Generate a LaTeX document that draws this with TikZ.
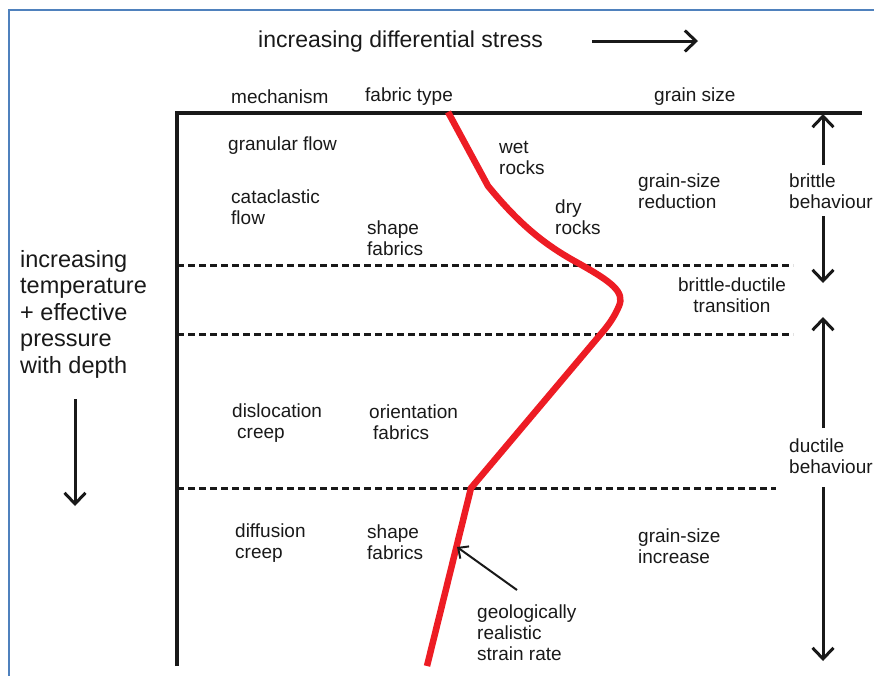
\documentclass[tikz,border=0pt]{standalone}
\usepackage{fontspec}
\setmainfont{Liberation Sans}
\usetikzlibrary{arrows.meta}
\begin{document}
\begin{tikzpicture}[x=1pt,y=-1pt,
  lbl/.style={inner sep=0pt,anchor=west,align=left,font=\fontsize{19}{21}\selectfont,text=black!90},
  big/.style={inner sep=0pt,anchor=west,align=left,font=\fontsize{23.5}{26.5}\selectfont,text=black!90},
  axis/.style={line width=3.5pt,black!90},
  dashline/.style={line width=3pt,black!90,dash pattern=on 7pt off 4pt},
  arr/.style={line width=3pt,black!90,-{Straight Barb[length=11pt,width=21pt,line width=3pt]}},
  redc/.style={line width=6.5pt,draw={rgb,255:red,237;green,28;blue,36},line join=round}]
\useasboundingbox (0,0) rectangle (874,675);
\definecolor{frameblue}{RGB}{79,129,189}
\draw[line width=2.5pt,frameblue] (9,676) -- (9,10) -- (876,10);
% axes
\coordinate (tl) at (177,113);
\coordinate (tr) at (862,113);
\coordinate (bl) at (177,666);
\draw[axis] (bl) -- (tl) -- (tr);
% dashed
\coordinate (d1a) at (177,265); \coordinate (d1b) at (793,265);
\coordinate (d2a) at (177,334); \coordinate (d2b) at (793,334);
\coordinate (d3a) at (177,488); \coordinate (d3b) at (776,488);
\draw[dashline] (d1a) -- (d1b);
\draw[dashline] (d2a) -- (d2b);
\draw[dashline] (d3a) -- (d3b);
% title
\node[big,font=\fontsize{23}{26}\selectfont] (title) at (258,42) {increasing differential stress};
\coordinate (ta) at (592,41); \coordinate (tb) at (698,41);
\draw[arr] (ta) -- (tb);
% headers
\node[lbl] (mech) at (231,97) {mechanism};
\node[lbl] (fab) at (365,97) {fabric type};
\node[lbl] (gs) at (654,97) {grain size};
% left text
\node[big] (depth) at (20,314) {increasing\\temperature\\+ effective\\pressure\\with depth};
\coordinate (la) at (75,399); \coordinate (lb) at (75,506);
\draw[arr] (la) -- (lb);
% right arrows
\coordinate (r1a) at (823,165); \coordinate (r1b) at (823,114);
\coordinate (r2a) at (823,216); \coordinate (r2b) at (823,283);
\coordinate (r3a) at (823,428); \coordinate (r3b) at (823,317);
\coordinate (r4a) at (823,487); \coordinate (r4b) at (823,661);
\draw[arr] (r1a) -- (r1b);
\draw[arr] (r2a) -- (r2b);
\draw[arr] (r3a) -- (r3b);
\draw[arr] (r4a) -- (r4b);
% labels
\node[lbl] (gran) at (228,146) {granular flow};
\node[lbl] (cata) at (231,207) {cataclastic\\flow};
\node[lbl] (shape1) at (367,238) {shape\\fabrics};
\node[lbl] (wet) at (499,158) {wet\\rocks};
\node[lbl] (dry) at (555,217) {dry\\rocks};
\node[lbl] (gsr) at (638,191) {grain-size\\reduction};
\node[lbl] (britt) at (789,191) {brittle\\behaviour};
\node[lbl,anchor=center,align=center] (bdt) at (732,295) {brittle-ductile\\transition};
\node[lbl] (disl) at (232,423) {dislocation\\\hspace*{5pt}creep};
\node[lbl] (orie) at (369,422) {orientation\\\hspace*{4pt}fabrics};
\node[lbl] (duct) at (789,456) {ductile\\behaviour};
\node[lbl] (diff) at (235,543) {diffusion\\creep};
\node[lbl] (shape2) at (367,542) {shape\\fabrics};
\node[lbl] (gsi) at (638,546) {grain-size\\increase};
\node[lbl] (geo) at (477,633) {geologically\\realistic\\strain rate};
% red curve
\coordinate (c0) at (448,112);
\coordinate (c1) at (488,186);
\coordinate (c2) at (578,263);
\coordinate (c3) at (619,306);
\coordinate (c4) at (600,335);
\coordinate (c5) at (471,488);
\coordinate (c6) at (427,666);
\draw[redc] (c0) -- (c1) .. controls (520,225) and (545,245) .. (c2)
  .. controls (612,282) and (625,292) .. (c3)
  .. controls (614,318) and (607,327) .. (c4) -- (c5) -- (c6);
% annotation arrow
\coordinate (aa) at (517,590); \coordinate (ab) at (457,547);
\draw[line width=2pt,black!90,-{Straight Barb[length=8pt,width=15pt,line width=2pt]}] (aa) -- (ab);
\end{tikzpicture}
\end{document}
